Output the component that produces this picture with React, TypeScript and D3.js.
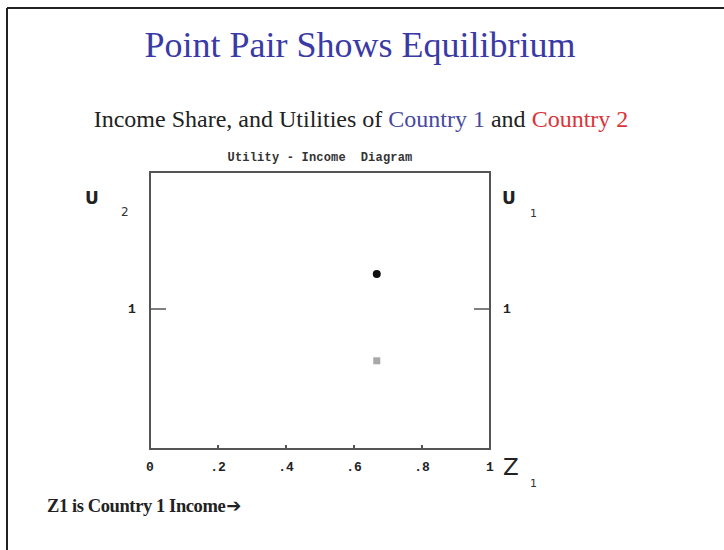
import React from "react";
import * as d3 from "d3";

const xTicks = [0, 0.2, 0.4, 0.6, 0.8, 1];
const xTickLabels = ["0", ".2", ".4", ".6", ".8", "1"];
const yTicks = [1];
const yTickLabels = ["1"];
const pointNames = ["U1", "U2"];
const pointX = [0.667, 0.667];
const pointY = [1.25, 0.63];
const pointColors = ["#111111", "#a8a8a8"];

export default function App() {
  const W = 724, H = 550;
  const x = d3.scaleLinear().domain([0, 1]).range([150, 490]);
  const y = d3.scaleLinear().domain([0, 2]).range([449, 169]);
  const frame = "#555";
  const mono = "'Liberation Mono', 'DejaVu Sans Mono', monospace";
  const serif = "'Liberation Serif', 'Times New Roman', serif";
  const sans = "'DejaVu Sans', 'Liberation Sans', sans-serif";
  return (
    <svg width={W} height={H} style={{ position: "absolute", left: 0, top: 0, background: "#fff" }}>
      <rect x={0} y={0} width={W} height={H} fill="#fff" />
      {/* outer slide border (left and top) */}
      <line x1={7} y1={8} x2={7} y2={H} stroke="#222" strokeWidth={2} />
      <line x1={7} y1={8} x2={W} y2={8} stroke="#222" strokeWidth={2} />

      <text x={360} y={57} textAnchor="middle" fontFamily={serif} fontSize={36} fill="#3a3aa6">
        Point Pair Shows Equilibrium
      </text>
      <text x={361} y={127} textAnchor="middle" fontFamily={serif} fontSize={24} fill="#222">
        Income Share, and Utilities of <tspan fill="#4848a0">Country 1</tspan> and <tspan fill="#d8343a">Country 2</tspan>
      </text>
      <text x={320} y={161} textAnchor="middle" fontFamily={mono} fontSize={12} fontWeight="bold" fill="#333" letterSpacing={0.2} style={{ whiteSpace: "pre" }}>
        Utility - Income  Diagram
      </text>

      {/* plot frame */}
      <rect x={x(0)} y={y(2) + 3} width={x(1) - x(0)} height={y(0) - y(2) - 3} fill="none" stroke={frame} strokeWidth={2} />

      {/* x ticks */}
      {xTicks.map((t, i) => (
        <g key={"xt" + i}>
          {i > 0 && i < xTicks.length - 1 && (
            <line x1={x(t)} x2={x(t)} y1={y(0)} y2={y(0) - 4} stroke={frame} strokeWidth={2} />
          )}
          <text x={x(t)} y={471} textAnchor="middle" fontFamily={mono} fontWeight="bold" fontSize={13} fill="#222">
            {xTickLabels[i]}
          </text>
        </g>
      ))}

      {/* y ticks both sides */}
      {yTicks.map((t, i) => (
        <g key={"yt" + i}>
          <line x1={x(0)} x2={x(0) + 16} y1={y(t)} y2={y(t)} stroke={frame} strokeWidth={1.5} />
          <line x1={x(1) - 16} x2={x(1)} y1={y(t)} y2={y(t)} stroke={frame} strokeWidth={1.5} />
          <text x={132} y={y(t) + 4} textAnchor="middle" fontFamily={mono} fontWeight="bold" fontSize={13} fill="#222">
            {yTickLabels[i]}
          </text>
          <text x={507} y={y(t) + 4} textAnchor="middle" fontFamily={mono} fontWeight="bold" fontSize={13} fill="#222">
            {yTickLabels[i]}
          </text>
        </g>
      ))}

      {/* axis names */}
      <text x={85} y={204} fontFamily={sans} fontWeight="bold" fontSize={17} fill="#222">U</text>
      <text x={121} y={216} fontFamily={sans} fontSize={12} fill="#333">2</text>
      <text x={502} y={204} fontFamily={sans} fontWeight="bold" fontSize={17} fill="#222">U</text>
      <text x={530} y={217} fontFamily={sans} fontSize={11} fill="#333">1</text>
      <text x={503} y={475} fontFamily={sans} fontSize={23} fontWeight={500} fill="#222">Z</text>
      <text x={530} y={487} fontFamily={sans} fontSize={11} fill="#333">1</text>

      <text x={47} y={512} fontFamily={serif} fontWeight="bold" fontSize={18.5} fill="#222" letterSpacing={-0.4}>
        Z1 is Country 1 Income<tspan fontFamily={sans} fontSize={18} dx={1}>➔</tspan>
      </text>

      {/* points */}
      <circle cx={x(pointX[0])} cy={y(pointY[0])} r={4} fill={pointColors[0]} />
      <rect x={x(pointX[1]) - 3.5} y={y(pointY[1]) - 3.5} width={7} height={7} fill={pointColors[1]} />
      {pointNames.length === 0 && null}
    </svg>
  );
}
